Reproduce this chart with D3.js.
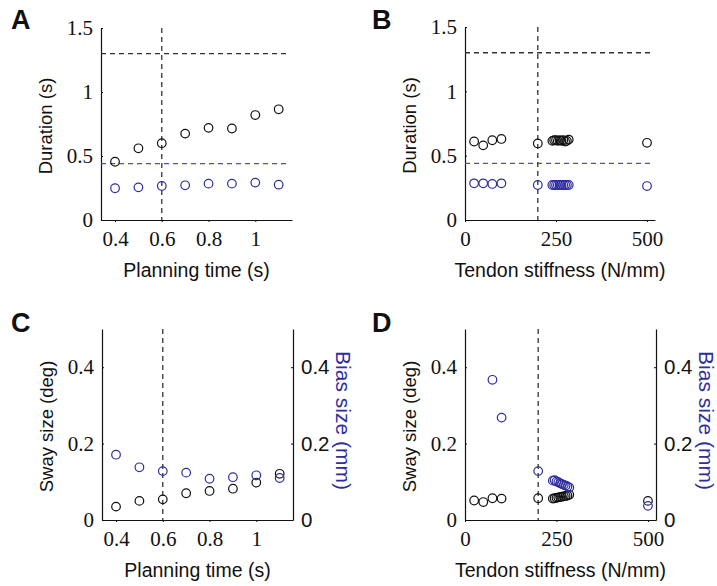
<!DOCTYPE html>
<html>
<head>
<meta charset="utf-8">
<script src="https://cdn.jsdelivr.net/npm/d3@7"></script>
<style>
  body { margin: 0; background: #fff; }
  svg { display: block; }
</style>
</head>
<body>
<div id="fig"></div>
<script>
// ---- data ----
var planTime = [0.4, 0.5, 0.6, 0.7, 0.8, 0.9, 1.0, 1.1];
var durPlanMove = [0.455, 0.56, 0.60, 0.675, 0.72, 0.715, 0.82, 0.865];
var durPlanBias = [0.248, 0.255, 0.266, 0.271, 0.284, 0.284, 0.292, 0.276];

var stiffness = [25, 50, 75, 100, 200, 240, 245, 250, 255, 260, 265, 270, 275, 280, 285, 500];
var durStiffMove = [0.61, 0.58, 0.62, 0.63, 0.595, 0.615, 0.62, 0.62, 0.615, 0.62, 0.615, 0.62, 0.61, 0.615, 0.625, 0.60];
var durStiffBias = [0.285, 0.285, 0.28, 0.285, 0.272, 0.272, 0.272, 0.272, 0.272, 0.272, 0.272, 0.272, 0.272, 0.272, 0.272, 0.264];

var swayPlan = [0.035, 0.05, 0.054, 0.07, 0.076, 0.082, 0.098, 0.121];
var biasPlan = [0.171, 0.138, 0.128, 0.124, 0.108, 0.112, 0.117, 0.110];

var swayStiff = [0.051, 0.047, 0.057, 0.056, 0.057, 0.056, 0.057, 0.058, 0.059, 0.060, 0.061, 0.062, 0.063, 0.064, 0.066, 0.050];
var biasStiff = [null, null, 0.367, 0.268, 0.128, 0.103, 0.104, 0.101, 0.099, 0.096, 0.094, 0.092, 0.090, 0.088, 0.085, 0.037];

var durTicks = [0, 0.5, 1, 1.5];
var sizeTicks = [0, 0.2, 0.4];
var planTicks = [0.4, 0.6, 0.8, 1];
var stiffTicks = [0, 250, 500];

var durRef = 1.3, biasRef = 0.44;

var black = '#111', blue = '#2e2e9e', dashBlack = '#333', dashBlue = '#5050b8';
var serif = '"Liberation Serif", "Times New Roman", serif';
var sans = '"Liberation Sans", Arial, sans-serif';

var svg = d3.select('#fig').append('svg')
  .attr('width', 717)
  .attr('height', 586);

var fmt = function(d){ return String(d); };

var drawPanel = function(p){
  var g = svg.append('g');
  var x = d3.scaleLinear().domain(p.xDomain).range([p.left, p.right]);
  var y = d3.scaleLinear().domain(p.yDomain).range([p.bottom, p.top]);

  // bottom axis
  var xAxis = g.append('g')
    .attr('transform', 'translate(0,' + p.bottom + ')')
    .call(d3.axisBottom(x).tickValues(p.xTicks).tickSize(2).tickSizeOuter(0).tickFormat(fmt));
  xAxis.selectAll('text')
    .attr('font-family', serif).attr('font-size', 21).attr('fill', black).attr('dy', '1.0em');

  // left axis
  var yAxis = g.append('g')
    .attr('transform', 'translate(' + p.left + ',0)')
    .call(d3.axisLeft(y).tickValues(p.yTicks).tickSize(-2).tickSizeOuter(0).tickFormat(fmt));
  yAxis.selectAll('text')
    .attr('font-family', serif).attr('font-size', 21).attr('fill', black).attr('x', -8);

  if (p.rightAxis) {
    var rAxis = g.append('g')
      .attr('transform', 'translate(' + p.right + ',0)')
      .call(d3.axisRight(y).tickValues(p.yTicks).tickSize(-2).tickSizeOuter(0).tickFormat(fmt));
    rAxis.selectAll('text')
      .attr('font-family', sans).attr('font-size', 20.5).attr('fill', black).attr('x', 8);
    g.append('text')
      .attr('transform', 'translate(' + (p.right + 43) + ',' + ((p.top + p.bottom) / 2 - 4) + ') rotate(90)')
      .attr('text-anchor', 'middle')
      .attr('font-family', sans).attr('font-size', 21).attr('fill', blue)
      .text(p.rightLabel);
  }

  g.selectAll('.domain').attr('stroke', black).attr('stroke-width', 1.2);
  g.selectAll('.tick line').attr('stroke', black);

  // reference lines
  if (p.hLines) {
    p.hLines.forEach(function(h){
      g.append('line')
        .attr('x1', p.left).attr('x2', p.right - 4)
        .attr('y1', y(h.v)).attr('y2', y(h.v))
        .attr('stroke', h.color).attr('stroke-width', 1.3)
        .attr('stroke-dasharray', '5,4');
    });
  }
  g.append('line')
    .attr('x1', x(p.vLine)).attr('x2', x(p.vLine))
    .attr('y1', p.top).attr('y2', p.bottom)
    .attr('stroke', dashBlack).attr('stroke-width', 1.3)
    .attr('stroke-dasharray', '5,4');

  // markers
  p.series.forEach(function(s){
    var pts = p.xs.map(function(v, i){ return {x: v, y: s.values[i]}; })
      .filter(function(d){ return d.y !== null; });
    g.selectAll(null).data(pts).enter().append('circle')
      .attr('cx', function(d){ return x(d.x); })
      .attr('cy', function(d){ return y(d.y); })
      .attr('r', 4.3)
      .attr('fill', 'none')
      .attr('stroke', s.color)
      .attr('stroke-width', 1.2);
  });

  // titles
  g.append('text')
    .attr('x', (p.left + p.right) / 2).attr('y', p.bottom + 57)
    .attr('text-anchor', 'middle')
    .attr('font-family', sans).attr('font-size', 19.5).attr('fill', black)
    .text(p.xLabel);
  g.append('text')
    .attr('transform', 'translate(' + (p.left - 49) + ',' + ((p.top + p.bottom) / 2 + 2) + ') rotate(-90)')
    .attr('text-anchor', 'middle')
    .attr('font-family', sans).attr('font-size', 18.5).attr('fill', black)
    .text(p.yLabel);
  g.append('text')
    .attr('x', p.letterX).attr('y', p.letterY)
    .attr('font-family', sans).attr('font-weight', 'bold').attr('font-size', 27).attr('fill', black)
    .text(p.letter);
};

drawPanel({
  letter: 'A', letterX: 11, letterY: 29,
  left: 101, right: 292, top: 28, bottom: 220,
  xDomain: [0.34, 1.157], yDomain: [0, 1.5],
  xTicks: planTicks, yTicks: durTicks,
  xLabel: 'Planning time (s)', yLabel: 'Duration (s)',
  xs: planTime,
  series: [{values: durPlanMove, color: black}, {values: durPlanBias, color: blue}],
  hLines: [{v: durRef, color: dashBlack}, {v: biasRef, color: dashBlue}],
  vLine: 0.6
});

drawPanel({
  letter: 'B', letterX: 372, letterY: 29,
  left: 465, right: 655, top: 27, bottom: 220,
  xDomain: [0, 522], yDomain: [0, 1.5],
  xTicks: stiffTicks, yTicks: durTicks,
  xLabel: 'Tendon stiffness (N/mm)', yLabel: 'Duration (s)',
  xs: stiffness,
  series: [{values: durStiffMove, color: black}, {values: durStiffBias, color: blue}],
  hLines: [{v: durRef, color: dashBlack}, {v: biasRef, color: dashBlue}],
  vLine: 200
});

drawPanel({
  letter: 'C', letterX: 11, letterY: 332,
  left: 102, right: 293, top: 329, bottom: 520,
  xDomain: [0.34, 1.157], yDomain: [0, 0.5],
  xTicks: planTicks, yTicks: sizeTicks,
  xLabel: 'Planning time (s)', yLabel: 'Sway size (deg)',
  rightAxis: true, rightLabel: 'Bias size (mm)',
  xs: planTime,
  series: [{values: swayPlan, color: black}, {values: biasPlan, color: blue}],
  vLine: 0.6
});

drawPanel({
  letter: 'D', letterX: 372, letterY: 332,
  left: 465, right: 656, top: 329, bottom: 520,
  xDomain: [0, 522], yDomain: [0, 0.5],
  xTicks: stiffTicks, yTicks: sizeTicks,
  xLabel: 'Tendon stiffness (N/mm)', yLabel: 'Sway size (deg)',
  rightAxis: true, rightLabel: 'Bias size (mm)',
  xs: stiffness,
  series: [{values: swayStiff, color: black}, {values: biasStiff, color: blue}],
  vLine: 200
});
</script>
</body>
</html>
